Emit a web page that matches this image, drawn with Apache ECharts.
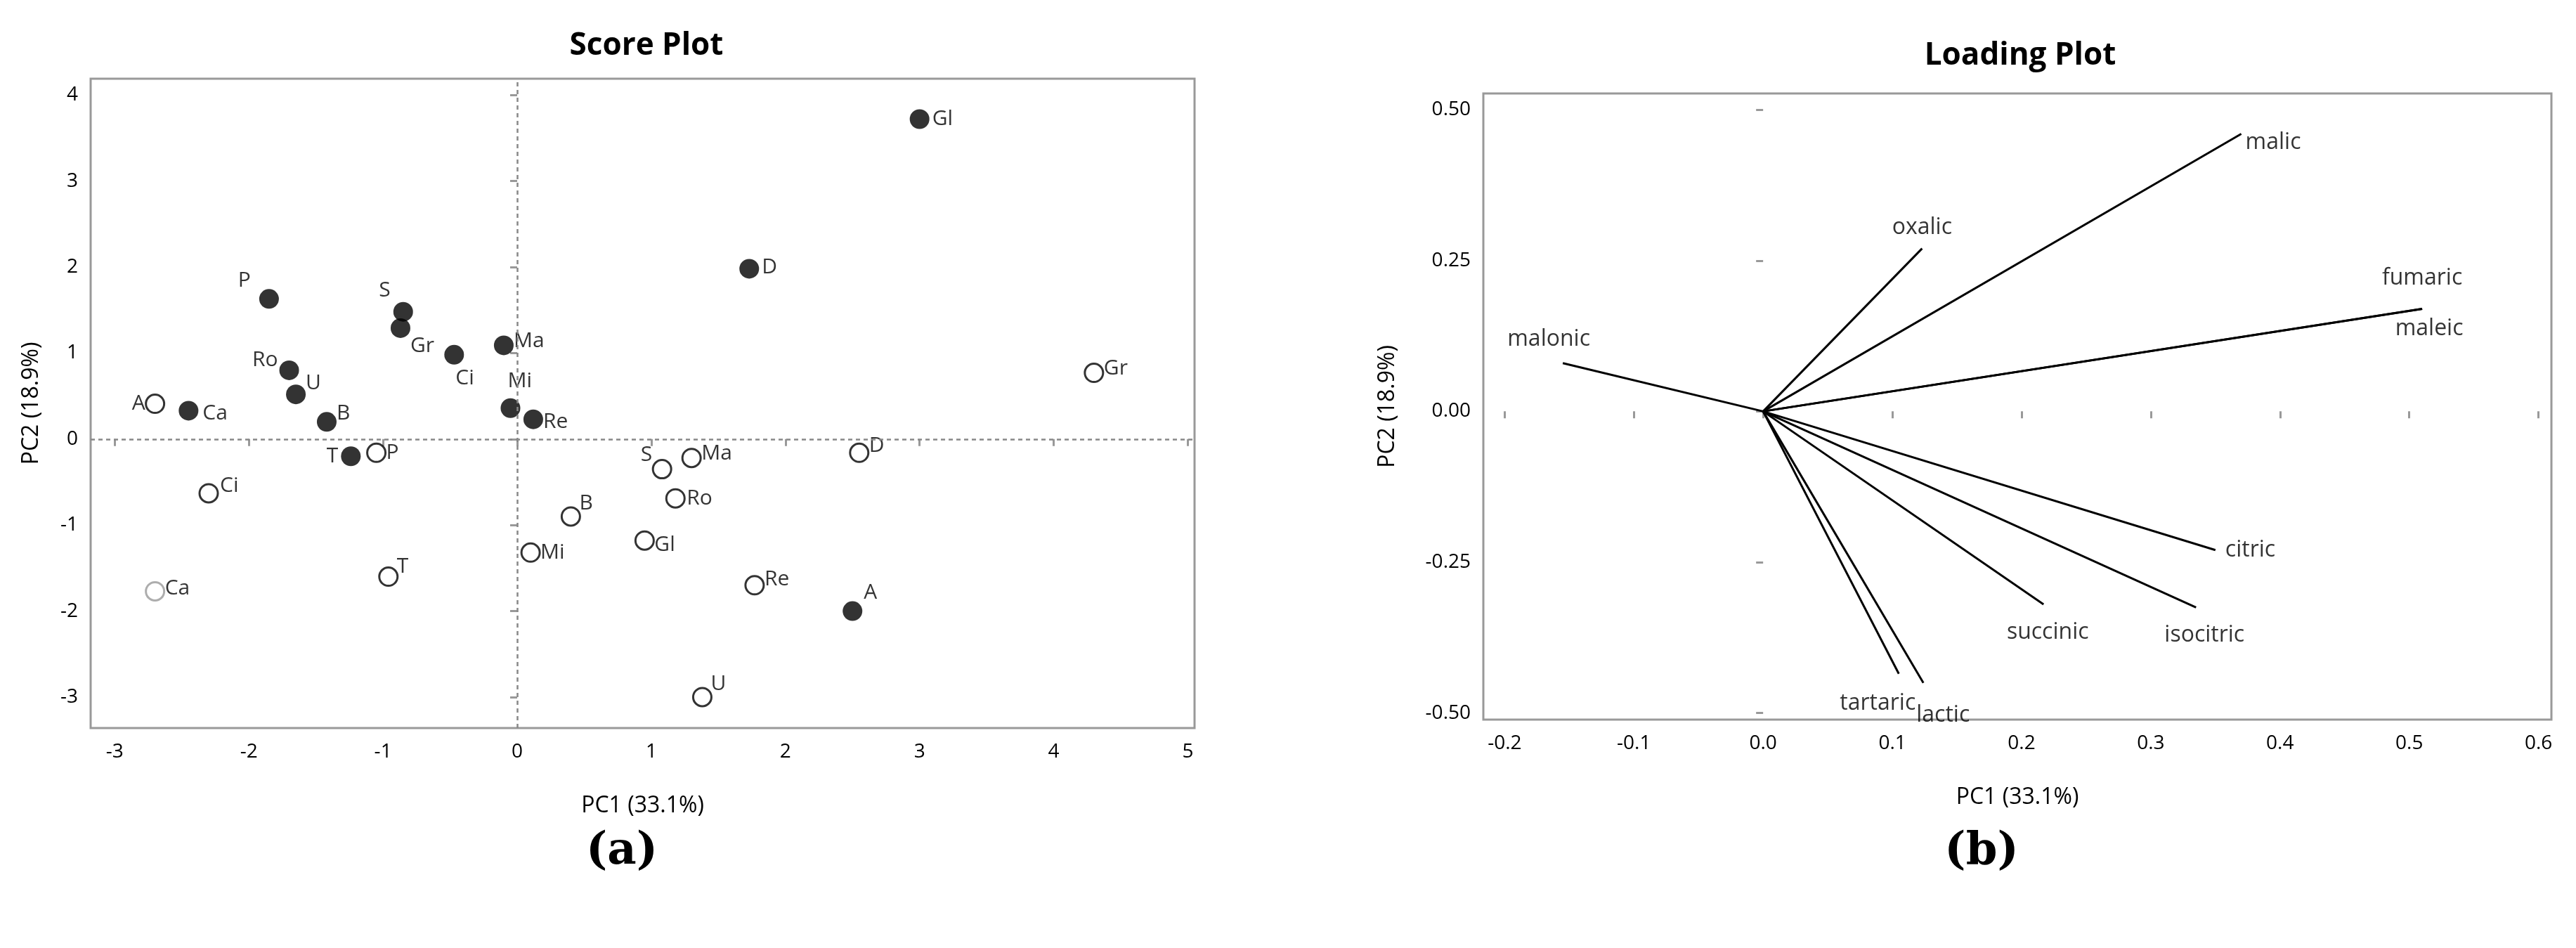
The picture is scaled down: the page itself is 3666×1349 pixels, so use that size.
<!DOCTYPE html>
<html><head><meta charset="utf-8">
<script src="https://cdn.jsdelivr.net/npm/echarts@6/dist/echarts.min.js"></script>
<style>html,body{margin:0;padding:0;background:#fff}#c{width:3666px;height:1349px}</style>
</head><body><div id="c"></div>
<script>
// Score plot data
const filledNames = ['Gl','D','P','S','Gr','Ci','Ma','Ro','U','Ca','B','Mi','Re','T','A'];
const filledPC1 = [3.0,1.73,-1.85,-0.85,-0.87,-0.47,-0.1,-1.7,-1.65,-2.45,-1.42,-0.05,0.12,-1.24,2.5];
const filledPC2 = [3.72,1.98,1.63,1.48,1.29,0.98,1.09,0.8,0.52,0.33,0.2,0.36,0.23,-0.2,-2.0];
const openNames = ['A','Gr','P','Ci','S','Ma','D','Ro','B','Gl','Mi','T','Re','U'];
const openPC1 = [-2.7,4.3,-1.05,-2.3,1.08,1.3,2.55,1.18,0.4,0.95,0.1,-0.96,1.77,1.38];
const openPC2 = [0.41,0.77,-0.16,-0.63,-0.35,-0.22,-0.16,-0.69,-0.9,-1.18,-1.32,-1.6,-1.7,-3.0];
const grayNames = ['Ca'];
const grayPC1 = [-2.7];
const grayPC2 = [-1.77];
// Loading plot data
const acids = ['malic','oxalic','fumaric','maleic','malonic','citric','isocitric','succinic','tartaric','lactic'];
const loadPC1 = [0.37,0.123,0.51,0.51,-0.155,0.35,0.335,0.217,0.105,0.124];
const loadPC2 = [0.46,0.27,0.17,0.17,0.08,-0.23,-0.325,-0.32,-0.435,-0.45];
const scoreXTicks = [-3,-2,-1,0,1,2,3,4,5];
const scoreYTicks = [-3,-2,-1,0,1,2,3,4];

const F = 'Open Sans';
// label offsets (style only)
const filledOff = {Gl:[18,0,'left'],D:[18,-2,'left'],P:[-26,-26,'right'],S:[-18,-30,'right'],Gr:[14,26,'left'],Ci:[2,34,'left'],Ma:[14,-6,'left'],Ro:[-16,-14,'right'],U:[14,-16,'left'],Ca:[20,4,'left'],B:[14,-12,'left'],Mi:[-4,-38,'left'],Re:[14,4,'left'],T:[-18,0,'right'],A:[16,-26,'left']};
const openOff = {A:[-14,0,'right'],Gr:[14,-6,'left'],P:[14,0,'left'],Ci:[16,-10,'left'],S:[-14,-20,'right'],Ma:[14,-6,'left'],D:[14,-10,'left'],Ro:[16,0,'left'],B:[12,-18,'left'],Gl:[14,6,'left'],Mi:[14,0,'left'],T:[12,-14,'left'],Re:[14,-8,'left'],U:[12,-18,'left']};
const grayOff = {Ca:[14,-4,'left']};
function pts(names,xs,ys,off){return names.map((n,i)=>({value:[xs[i],ys[i]],name:n,label:{offset:[off[n][0],off[n][1]],align:off[n][2]}}));}

const loadLab = {malic:[6,12,'left','middle'],oxalic:[0,-14,'center','bottom'],fumaric:[0,-28,'center','bottom'],maleic:[10,28,'center','middle'],malonic:[-20,-18,'center','bottom'],citric:[14,0,'left','middle'],isocitric:[12,24,'center','top'],succinic:[6,24,'center','top'],tartaric:[-30,26,'center','top'],lactic:[28,30,'center','top']};

const axisTxt = {color:'#000',fontFamily:F,fontSize:28};
const nameTxt = {color:'#000',fontFamily:F,fontSize:32};
const frame = {show:true,borderColor:'#999',borderWidth:3};

const series = [];
const dash = {symbol:'none',silent:true,label:{show:false},lineStyle:{type:[6,5],color:'#888',width:2.5},data:[{xAxis:0},{yAxis:0}]};
const lab = {show:true,position:'inside',fontFamily:F,fontSize:30,color:'#000',formatter:p=>p.name};
series.push({type:'scatter',xAxisIndex:0,yAxisIndex:0,symbolSize:28,itemStyle:{color:'#000'},label:lab,data:pts(filledNames,filledPC1,filledPC2,filledOff),markLine:dash,z:3});
series.push({type:'scatter',xAxisIndex:0,yAxisIndex:0,symbolSize:26,itemStyle:{color:'#fff',borderColor:'#000',borderWidth:3},label:lab,data:pts(openNames,openPC1,openPC2,openOff),z:3});
series.push({type:'scatter',xAxisIndex:0,yAxisIndex:0,symbolSize:26,itemStyle:{color:'#fff',borderColor:'#999',borderWidth:3},label:lab,data:pts(grayNames,grayPC1,grayPC2,grayOff),z:3});
acids.forEach((a,i)=>{
  series.push({type:'line',xAxisIndex:1,yAxisIndex:1,symbol:'none',lineStyle:{color:'#000',width:3},data:[[0,0],[loadPC1[i],loadPC2[i]]]});
});
series.push({type:'scatter',xAxisIndex:1,yAxisIndex:1,symbolSize:1,itemStyle:{color:'rgba(0,0,0,0)'},
  data:acids.map((a,i)=>({value:[loadPC1[i],loadPC2[i]],name:a,label:{offset:[loadLab[a][0],loadLab[a][1]],align:loadLab[a][2],verticalAlign:loadLab[a][3]}})),
  label:{show:true,position:'inside',fontFamily:F,fontSize:32,color:'#000',formatter:p=>p.name}});

const chart = echarts.init(document.getElementById('c'));
chart.setOption({
  backgroundColor:'#fff',animation:false,
  title:[
    {text:'Score Plot',left:915,top:38,textAlign:'center',textStyle:{fontFamily:F,fontWeight:'bold',fontSize:44,color:'#000'}},
    {text:'Loading Plot',left:2870,top:52,textAlign:'center',textStyle:{fontFamily:F,fontWeight:'bold',fontSize:44,color:'#000'}},
    {text:'(a)',left:880,top:1175,textAlign:'center',textStyle:{fontFamily:'DejaVu Serif',fontWeight:'bold',fontSize:64,color:'#000'}},
    {text:'(b)',left:2815,top:1175,textAlign:'center',textStyle:{fontFamily:'DejaVu Serif',fontWeight:'bold',fontSize:64,color:'#000'}}
  ],
  grid:[
    Object.assign({left:129,top:112,width:1571,height:924},frame),
    Object.assign({left:2111,top:133,width:1520,height:891},frame)
  ],
  xAxis:[
    {type:'value',gridIndex:0,min:-3.18,max:5.05,interval:1,splitLine:{show:false},axisLine:{show:false},
     axisTick:{show:true,length:10,lineStyle:{color:'#999',width:3},customValues:scoreXTicks},
     axisLabel:Object.assign({margin:20,customValues:scoreXTicks},axisTxt),
     name:'PC1 (33.1%)',nameLocation:'middle',nameGap:95,nameTextStyle:nameTxt},
    {type:'value',gridIndex:1,min:-0.2165,max:0.61,splitLine:{show:false},axisLine:{show:false},
     axisTick:{show:true,length:10,lineStyle:{color:'#999',width:3},customValues:[-0.2,-0.1,0,0.1,0.2,0.3,0.4,0.5,0.6]},
     axisLabel:Object.assign({margin:20,customValues:[-0.2,-0.1,0,0.1,0.2,0.3,0.4,0.5,0.6],formatter:v=>v.toFixed(1)},axisTxt),
     name:'PC1 (33.1%)',nameLocation:'middle',nameGap:95,nameTextStyle:nameTxt}
  ],
  yAxis:[
    {type:'value',gridIndex:0,min:-3.36,max:4.19,splitLine:{show:false},axisLine:{show:false},
     axisTick:{show:true,length:10,lineStyle:{color:'#999',width:3},customValues:scoreYTicks},
     axisLabel:Object.assign({margin:18,customValues:scoreYTicks},axisTxt),
     name:'PC2 (18.9%)',nameLocation:'middle',nameGap:68,nameTextStyle:Object.assign({fontWeight:'normal'},nameTxt)},
    {type:'value',gridIndex:1,min:-0.511,max:0.527,splitLine:{show:false},axisLine:{show:false},
     axisTick:{show:true,length:10,lineStyle:{color:'#999',width:3},customValues:[-0.5,-0.25,0,0.25,0.5]},
     axisLabel:Object.assign({margin:18,customValues:[-0.5,-0.25,0,0.25,0.5],formatter:v=>v.toFixed(2)},axisTxt),
     name:'PC2 (18.9%)',nameLocation:'middle',nameGap:120,nameTextStyle:nameTxt}
  ],
  series:series
});
</script></body></html>
